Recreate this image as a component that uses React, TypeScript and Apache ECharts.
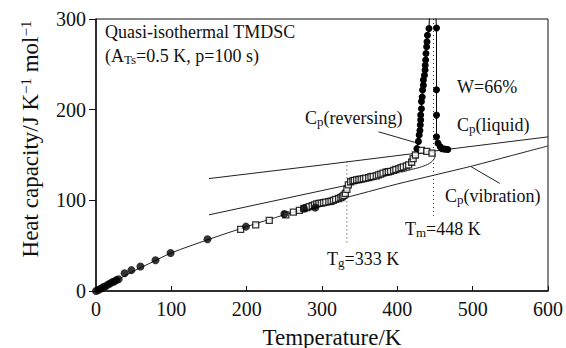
import React, { useEffect, useRef } from "react";
import * as echarts from "echarts";

// ---- data ----
const xTicks = [0, 100, 200, 300, 400, 500, 600];
const yTicks = [0, 100, 200, 300];

// Cp(vibration) line
const vibT = [0, 5, 10, 20, 30, 50, 75, 100, 150, 200, 250, 300, 350, 400, 450, 500, 550, 600];
const vibCp = [0, 2, 4.5, 9, 13, 22, 32, 42, 57, 71, 84, 96, 107, 118, 128, 138, 149, 160];

// Cp(liquid) line
const liqT = [150, 300, 450, 600];
const liqCp = [124, 139, 154.5, 170];

// semicrystalline baseline
const semiT = [150, 335];
const semiCp = [84, 117];

// Cp(reversing) curve near melting
const revT = [405, 421, 432, 443, 449, 450, 446];
const revCp = [131, 134.5, 137, 141, 146, 151, 153];

// filled circles (low temperature data)
const fillT = [0, 3, 6, 9, 12, 15, 18, 21, 24, 27, 30, 38, 47, 59, 79, 99, 148, 199, 250, 276, 291];
const fillCp = [0, 1, 2.5, 4, 5, 6.5, 8, 9.5, 10.5, 12, 13, 19.5, 23, 27, 34, 42, 57, 71, 85, 91, 92];

// open squares (quasi-isothermal TMDSC)
const qiT = [192, 212, 230, 252, 262, 270, 276, 280, 283, 287, 290, 293, 296, 299, 302, 305, 309, 312, 315, 318, 322, 325, 327, 329, 331, 333, 335, 338, 341, 343, 346, 349, 352, 355, 358, 362, 365, 368, 372, 375, 378, 381, 385, 388, 391, 395, 398, 402, 405, 408, 412, 415, 419, 421, 424, 432, 439, 446];
const qiCp = [68, 73, 78, 84, 87, 89, 91, 92, 93, 94, 95, 96, 96.6, 97, 97.5, 98, 98.5, 99, 100, 101, 102, 103, 104, 105.5, 107.6, 112, 117, 120.5, 121.5, 122, 122.5, 123, 123.5, 124, 124.5, 125, 126, 126.5, 127, 128, 129, 130, 131, 131.5, 132, 133, 134, 135, 136, 137, 138, 139, 142, 146, 150, 155, 154, 152];

// melting run, left column
const meltAT = [426, 428, 429, 430, 430.5, 431, 431, 432, 432, 433, 433.5, 434.6, 434.6, 436, 436.8, 437, 437.6, 438, 438.9, 439.4, 440, 442, 443.5];
const meltACp = [157, 165, 172, 177, 183, 188.5, 194, 201, 209, 214, 221.6, 227, 232.6, 238, 243.7, 249, 254.7, 262, 269.4, 275, 282, 289.6, 320];

// melting run, right column
const meltBT = [450, 452, 452, 452, 452, 454, 457, 459, 463, 467];
const meltBCp = [320, 290, 222, 194, 170, 163, 159, 157, 156.5, 156];

// guide lines
const tgT = [333, 333];
const tgCp = [143, 52];
const tmT = [448, 448];
const tmCp = [300, 83];
const revPtrT = [375, 428];
const revPtrCp = [175.6, 162.8];
const vibPtrT = [498, 536];
const vibPtrCp = [137, 118.7];

const FONT = "Liberation Serif";

const zip = (a: number[], b: number[]) => a.map((v, i) => [v, b[i]]);

function richText(fs: number) {
  return {
    n: { fontSize: fs, fontFamily: FONT, fill: "#111" },
    s: { fontSize: Math.round(fs * 0.72), fontFamily: FONT, fill: "#111", verticalAlign: "bottom", padding: [6, 0, 0, 0] },
    u: { fontSize: Math.round(fs * 0.65), fontFamily: FONT, fill: "#111", verticalAlign: "top", padding: [0, 0, 8, 0] },
  };
}

function label(x: number, y: number, text: string, fs = 18, extra: any = {}) {
  return {
    type: "text",
    x,
    y,
    style: {
      text,
      rich: richText(fs),
      fontSize: fs,
      fontFamily: FONT,
      fill: "#111",
      textVerticalAlign: "middle",
      verticalAlign: "middle",
      ...extra,
    },
  };
}

export default function App() {
  const ref = useRef<HTMLDivElement>(null);
  useEffect(() => {
    document.body.style.margin = "0";
    const chart = echarts.init(ref.current!, null, { renderer: "svg" });
    const lineBase = { type: "line", symbol: "none", silent: true, z: 2 };
    chart.setOption({
      animation: false,
      grid: { left: 96, right: 17, top: 19, bottom: 57, show: true, borderColor: "#111", borderWidth: 1 },
      xAxis: {
        type: "value",
        min: 0,
        max: 600,
        interval: 100,
        splitLine: { show: false },
        axisLine: { lineStyle: { color: "#111", width: 1.5 } },
        axisTick: { inside: true, length: 5, lineStyle: { color: "#111" } },
        axisLabel: { color: "#111", fontSize: 20, fontFamily: FONT, margin: 8, formatter: (v: number) => (xTicks.includes(v) ? String(v) : "") },
      },
      yAxis: {
        type: "value",
        min: 0,
        max: 300,
        interval: 100,
        splitLine: { show: false },
        axisLine: { show: true, lineStyle: { color: "#111", width: 1.5 } },
        axisTick: { show: true, inside: false, length: 7, lineStyle: { color: "#111" } },
        axisLabel: { color: "#111", fontSize: 20, fontFamily: FONT, margin: 10, formatter: (v: number) => (yTicks.includes(v) ? String(v) : "") },
      },
      series: [
        { ...lineBase, name: "Cp(vibration)", data: zip(vibT, vibCp), smooth: 0.3, lineStyle: { color: "#222", width: 1 } },
        { ...lineBase, name: "Cp(liquid)", data: zip(liqT, liqCp), lineStyle: { color: "#222", width: 1 } },
        { ...lineBase, name: "baseline", data: zip(semiT, semiCp), lineStyle: { color: "#222", width: 1 } },
        { ...lineBase, name: "Cp(reversing)", data: zip(revT, revCp), smooth: 0.4, lineStyle: { color: "#222", width: 1 } },
        { ...lineBase, name: "Tg", data: zip(tgT, tgCp), lineStyle: { color: "#333", width: 1, type: [1, 3] } },
        { ...lineBase, name: "Tm", data: zip(tmT, tmCp), lineStyle: { color: "#333", width: 1, type: [1, 3] } },
        { ...lineBase, name: "ptr1", data: zip(revPtrT, revPtrCp), lineStyle: { color: "#222", width: 1 } },
        { ...lineBase, name: "ptr2", data: zip(vibPtrT, vibPtrCp), lineStyle: { color: "#222", width: 1 } },
        {
          type: "line",
          name: "melt A",
          data: zip(meltAT, meltACp),
          symbol: "circle",
          symbolSize: 7,
          showAllSymbol: true,
          itemStyle: { color: "#000" },
          lineStyle: { color: "#000", width: 1 },
          clip: true,
          z: 4,
        },
        {
          type: "line",
          name: "melt B",
          data: zip(meltBT, meltBCp),
          symbol: "circle",
          symbolSize: 7,
          showAllSymbol: true,
          itemStyle: { color: "#000" },
          lineStyle: { color: "#000", width: 1 },
          clip: true,
          z: 4,
        },
        {
          type: "scatter",
          name: "quasi-isothermal",
          data: zip(qiT, qiCp),
          symbol: "rect",
          symbolSize: 6,
          itemStyle: { color: "#fff", borderColor: "#000", borderWidth: 1.3 },
          z: 5,
        },
        {
          type: "scatter",
          name: "filled",
          data: zip(fillT, fillCp),
          symbol: "circle",
          symbolSize: 8,
          itemStyle: { color: "#000" },
          z: 6,
        },
      ],
      graphic: [
        label(105, 32, "{n|Quasi-isothermal TMDSC}"),
        label(105, 56, "{n|(A}{s|Ts}{n|=0.5 K, p=100 s)}"),
        label(457, 87, "{n|W=66%}"),
        label(305, 118, "{n|C}{s|p}{n|(reversing)}"),
        label(457, 125, "{n|C}{s|p}{n|(liquid)}"),
        label(445, 196, "{n|C}{s|p}{n|(vibration)}"),
        label(405, 229, "{n|T}{s|m}{n|=448 K}"),
        label(327, 259, "{n|T}{s|g}{n|=333 K}"),
        {
          type: "text",
          x: 332,
          y: 337,
          style: {
            text: "Temperature/K",
            fontSize: 23,
            fontFamily: FONT,
            fill: "#111",
            align: "center",
            verticalAlign: "middle",
          },
        },
        {
          type: "text",
          x: 30,
          y: 139,
          rotation: Math.PI / 2,
          style: {
            text: "{n|Heat capacity/J K}{u|−1}{n| mol}{u|−1}",
            rich: richText(23),
            fontSize: 23,
            fontFamily: FONT,
            fill: "#111",
            align: "center",
            verticalAlign: "middle",
          },
        },
      ],
    });
    return () => chart.dispose();
  }, []);
  return <div ref={ref} style={{ width: 566, height: 348 }} />;
}
